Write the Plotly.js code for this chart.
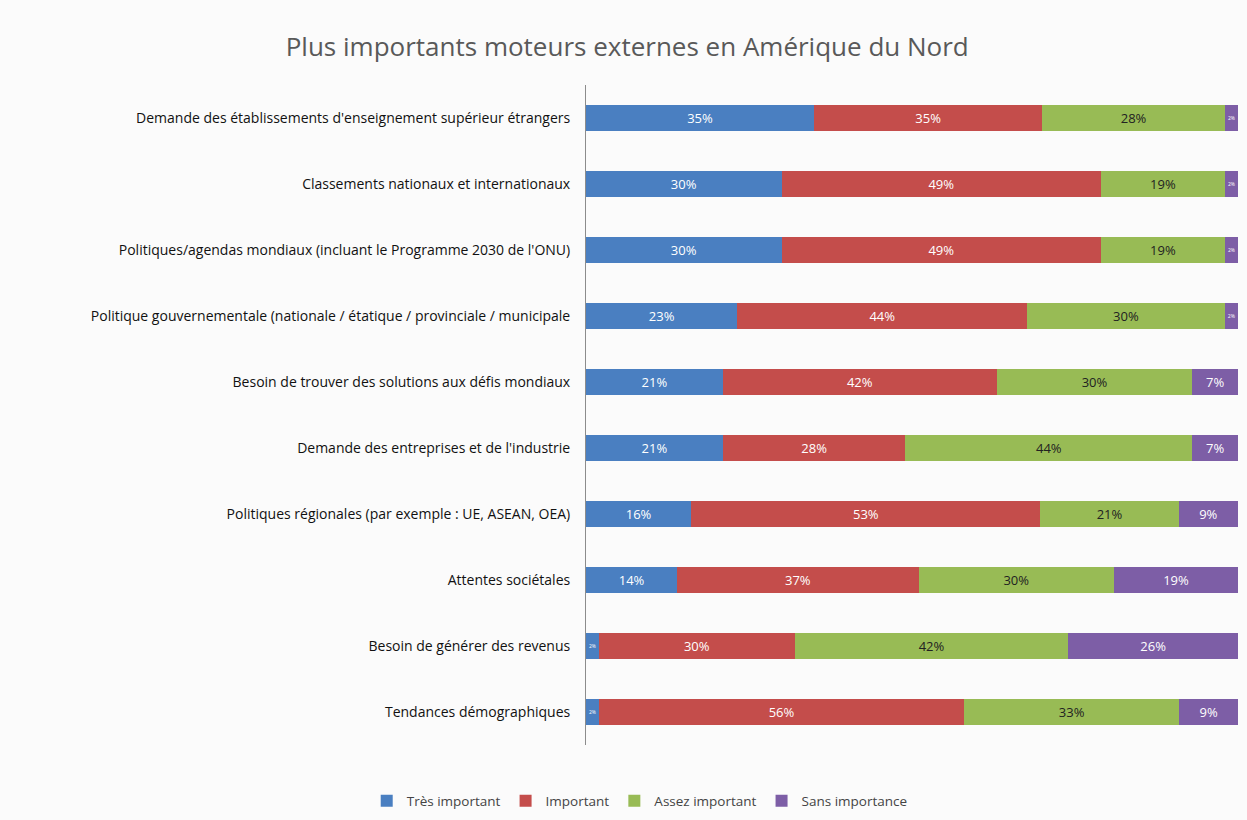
<!DOCTYPE html>
<html>
<head>
<meta charset="utf-8">
<script src="https://cdn.plot.ly/plotly-3.0.1.min.js"></script>
<style>html,body{margin:0;padding:0;background:#fbfbfb;}#chart{width:1247px;height:820px;}</style>
</head>
<body>
<div id="chart"></div>
<script>
const categories = [
  "Demande des établissements d'enseignement supérieur étrangers",
  "Classements nationaux et internationaux",
  "Politiques/agendas mondiaux (incluant le Programme 2030 de l'ONU)",
  "Politique gouvernementale (nationale / étatique / provinciale / municipale",
  "Besoin de trouver des solutions aux défis mondiaux",
  "Demande des entreprises et de l'industrie",
  "Politiques régionales (par exemple : UE, ASEAN, OEA)",
  "Attentes sociétales",
  "Besoin de générer des revenus",
  "Tendances démographiques"
];
const tresImportant   = [35, 30, 30, 23, 21, 21, 16, 14, 2, 2];
const important       = [35, 49, 49, 44, 42, 28, 53, 37, 30, 56];
const assezImportant  = [28, 19, 19, 30, 30, 44, 21, 30, 42, 33];
const sansImportance  = [2, 2, 2, 2, 7, 7, 9, 19, 26, 9];
const seriesNames = ["Très important", "Important", "Assez important", "Sans importance"];
const seriesColors = ["#4a7fc1", "#c44d4b", "#98bb55", "#7d5ea6"];
const textColors = ["#ffffff", "#ffffff", "#222222", "#ffffff"];
const allSeries = [tresImportant, important, assezImportant, sansImportance];

const traces = allSeries.map((vals, i) => ({
  type: 'bar',
  orientation: 'h',
  name: seriesNames[i],
  y: categories,
  x: vals,
  text: vals.map(v => v + '%'),
  textposition: 'inside',
  insidetextanchor: 'middle',
  textangle: 0,
  textfont: {family: 'Open Sans, sans-serif', size: 13, color: textColors[i]},
  marker: {color: seriesColors[i]},
  hoverinfo: 'none'
}));

const layout = {
  width: 1247, height: 820,
  paper_bgcolor: '#fbfbfb', plot_bgcolor: '#fbfbfb',
  barmode: 'stack', barnorm: 'percent', bargap: 0.6,
  margin: {l: 586, r: 9, t: 85, b: 75},
  title: {
    text: 'Plus importants moteurs externes en Amérique du Nord',
    font: {family: 'Open Sans, sans-serif', size: 26, color: '#595959'},
    xref: 'container', x: 0.503, xanchor: 'center',
    yref: 'container', y: 1 - 47/820, yanchor: 'middle'
  },
  xaxis: {range: [0, 100], showgrid: false, zeroline: false, showticklabels: false, ticks: '', showline: false, fixedrange: true},
  yaxis: {
    autorange: 'reversed', showgrid: false, zeroline: false, ticks: '',
    showline: true, linecolor: '#8c8c8c', linewidth: 1,
    ticklabelstandoff: 12,
    tickfont: {family: 'Open Sans, sans-serif', size: 14, color: '#111111'}
  },
  legend: {
    orientation: 'h',
    xref: 'container', x: 0.513, xanchor: 'center',
    yref: 'container', y: 1 - 801/820, yanchor: 'middle',
    font: {family: 'Open Sans, sans-serif', size: 13.5, color: '#444444'},
    itemwidth: 30, traceorder: 'normal'
  },
  showlegend: true
};

Plotly.newPlot('chart', traces, layout, {displayModeBar: false, staticPlot: true});
</script>
</body>
</html>
